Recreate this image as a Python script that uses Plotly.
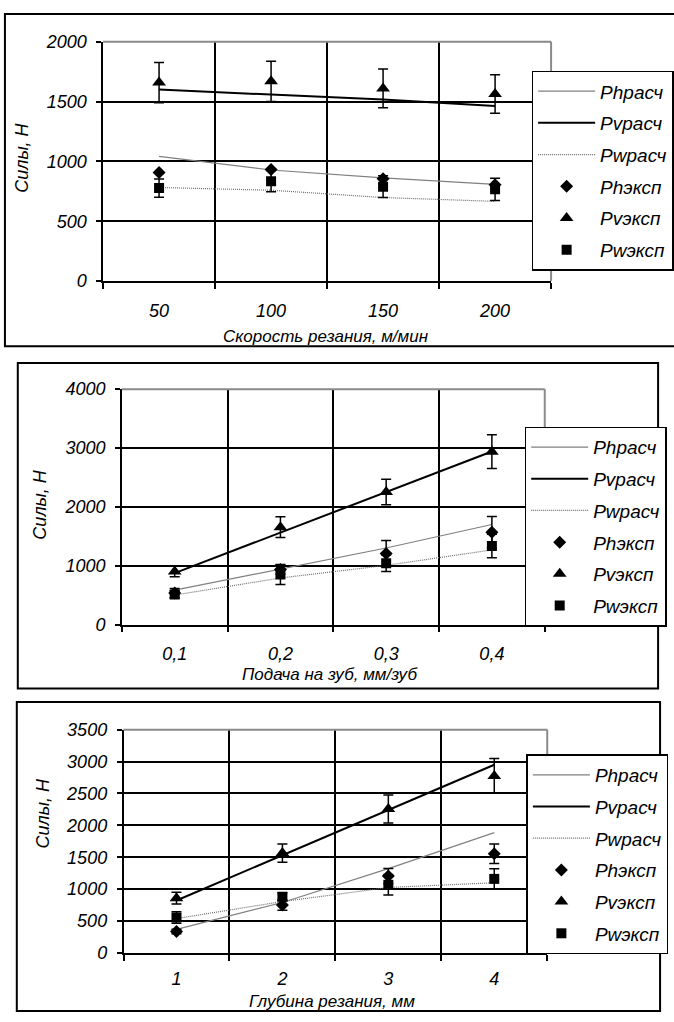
import plotly.graph_objects as go

W, H = 674, 1022

# ---------------- data ----------------
series_names = ["Phрасч", "Pvрасч", "Pwрасч", "Phэксп", "Pvэксп", "Pwэксп"]

# Chart 1: cutting speed
speed_labels = ["50", "100", "150", "200"]
speed_y_ticks = [0, 500, 1000, 1500, 2000]
speed_ph_calc = [1042, 928, 863, 808]
speed_pv_calc = [1600, 1558, 1516, 1462]
speed_pw_calc = [782, 759, 698, 666]
speed_ph_exp = [908, 933, 854, 805]
speed_pv_exp = [1658, 1669, 1609, 1563]
speed_pw_exp = [777, 835, 789, 767]
speed_ph_err = None
speed_pv_err = [168, 168, 162, 160]
speed_pw_err = [76, 88, 90, 93]

# Chart 2: feed per tooth
feed_labels = ["0,1", "0,2", "0,3", "0,4"]
feed_y_ticks = [0, 1000, 2000, 3000, 4000]
feed_ph_calc = [584, 946, 1300, 1700]
feed_pv_calc = [874, 1560, 2245, 2940]
feed_pw_calc = [501, 791, 1005, 1268]
feed_ph_exp = [535, 935, 1208, 1569]
feed_pv_exp = [901, 1655, 2253, 2937]
feed_pw_exp = [512, 850, 1041, 1335]
feed_ph_err = [77, 75, 222, 267]
feed_pv_err = [90, 175, 217, 287]
feed_pw_err = [62, 170, 140, 200]

# Chart 3: depth of cut
depth_labels = ["1", "2", "3", "4"]
depth_y_ticks = [0, 500, 1000, 1500, 2000, 2500, 3000, 3500]
depth_ph_calc = [369, 790, 1320, 1886]
depth_pv_calc = [821, 1530, 2245, 2950]
depth_pw_calc = [538, 805, 1025, 1100]
depth_ph_exp = [334, 750, 1205, 1553]
depth_pv_exp = [858, 1565, 2255, 2775]
depth_pw_exp = [555, 880, 1067, 1160]
depth_ph_err = [35, 80, 117, 153]
depth_pv_err = [92, 143, 220, 272]
depth_pw_err = [90, 60, 160, 160]

x_titles = ["Скорость резания, м/мин", "Подача на зуб, мм/зуб", "Глубина резания, мм"]
y_title = "Силы, Н"

FONT = "Liberation Sans, Arial, sans-serif"
FS = 18
LFS = 19

fig = go.Figure()

charts = [
    dict(labels=speed_labels, yticks=speed_y_ticks,
         calc=[speed_ph_calc, speed_pv_calc, speed_pw_calc],
         exp=[speed_ph_exp, speed_pv_exp, speed_pw_exp],
         err=[speed_ph_err, speed_pv_err, speed_pw_err],
         xdom=(104.3, 557.7), ydom=(32.3, 276.5),
         legend=(538, 62), box=(5, 4, 690, 343), standoff=13,
         ytitle=(22, 151), xtitle=(330, 333)),
    dict(labels=feed_labels, yticks=feed_y_ticks,
         calc=[feed_ph_calc, feed_pv_calc, feed_pw_calc],
         exp=[feed_ph_exp, feed_pv_exp, feed_pw_exp],
         err=[feed_ph_err, feed_pv_err, feed_pw_err],
         xdom=(123.3, 551.3), ydom=(386.7, 626.8),
         legend=(531, 425), box=(18, 360, 666, 692), standoff=12,
         ytitle=(41, 505), xtitle=(334, 678)),
    dict(labels=depth_labels, yticks=depth_y_ticks,
         calc=[depth_ph_calc, depth_pv_calc, depth_pw_calc],
         exp=[depth_ph_exp, depth_pv_exp, depth_pw_exp],
         err=[depth_ph_err, depth_pv_err, depth_pw_err],
         xdom=(125.0, 553.8), ydom=(734.0, 961.7),
         legend=(532.7, 759.3), box=(17, 705.7, 668, 1021), standoff=9,
         ytitle=(43, 819), xtitle=(336, 1011)),
]

calc_styles = [
    dict(color="#808080", width=1.2),
    dict(color="black", width=2),
    dict(color="#707070", width=1.2, dash="1px,1px"),
]
exp_markers = [
    dict(symbol="diamond", size=10, color="black"),
    dict(symbol="triangle-up", size=12, color="black"),
    dict(symbol="square", size=10, color="black"),
]

tickfont = dict(family=FONT, size=FS, color="black")
layout_updates = {}
shapes = []
annotations = []

for i, c in enumerate(charts):
    n = i + 1
    xa = "x" if n == 1 else f"x{n}"
    ya = "y" if n == 1 else f"y{n}"
    lg = "legend" if n == 1 else f"legend{n}"
    xpos = list(range(1, len(c["labels"]) + 1))
    for k in range(3):
        fig.add_trace(go.Scatter(
            x=xpos, y=c["calc"][k], mode="lines", name=series_names[k],
            line=calc_styles[k], xaxis=xa, yaxis=ya, legend=lg,
            legendgroup=f"c{n}_{k}"))
    for k in range(3):
        err = c["err"][k]
        fig.add_trace(go.Scatter(
            x=xpos, y=c["exp"][k], mode="markers", name=series_names[k + 3],
            marker=exp_markers[k], xaxis=xa, yaxis=ya, legend=lg,
            legendgroup=f"e{n}_{k}",
            error_y=(dict(type="data", array=err, color="black", thickness=1.5, width=5)
                     if err is not None else dict(visible=False))))

    xkey = "xaxis" if n == 1 else f"xaxis{n}"
    ykey = "yaxis" if n == 1 else f"yaxis{n}"
    yt = c["yticks"]
    layout_updates[xkey] = dict(
        domain=[c["xdom"][0] / W, c["xdom"][1] / W],
        anchor=ya, range=[0.5, len(xpos) + 0.5],
        tickmode="array", tickvals=xpos, ticktext=[f"<i>{t}</i>" for t in c["labels"]],
        ticks="", showgrid=False, zeroline=False,
        showline=True, linecolor="black", linewidth=1.5,
        tickfont=tickfont, ticklabelstandoff=c["standoff"],
        minor=dict(tickmode="array", tickvals=[p - 0.5 for p in xpos] + [len(xpos) + 0.5],
                   ticks="outside", ticklen=6, tickwidth=1.5, tickcolor="black",
                   showgrid=True, gridcolor="black", gridwidth=1.5),
    )
    layout_updates[ykey] = dict(
        domain=[1 - c["ydom"][1] / H, 1 - c["ydom"][0] / H],
        anchor=xa, range=[yt[0], yt[-1]],
        tickmode="array", tickvals=yt, ticktext=[f"<i>{t}</i>" for t in yt],
        ticks="outside", ticklen=5, tickwidth=1.5, tickcolor="black",
        showgrid=True, gridcolor="black", gridwidth=1.5, zeroline=False,
        showline=True, linecolor="black", linewidth=1.5,
        tickfont=tickfont, ticklabelstandoff=6,
    )
    layout_updates[lg] = dict(
        x=c["legend"][0] / W, y=1 - c["legend"][1] / H, xanchor="left", yanchor="top",
        bgcolor="white", bordercolor="black", borderwidth=1.5,
        font=dict(family=FONT, size=LFS, color="black", style="italic"),
        traceorder="grouped", tracegroupgap=4, itemwidth=57,
    )
    # gray plot-area border (top & right)
    shapes.append(dict(type="line", xref=f"{xa} domain", yref=f"{ya} domain",
                       x0=0, x1=1, y0=1, y1=1, line=dict(color="#8a8a8a", width=2)))
    shapes.append(dict(type="line", xref=f"{xa} domain", yref=f"{ya} domain",
                       x0=1, x1=1, y0=0, y1=1, line=dict(color="#8a8a8a", width=2)))
    # outer chart frame
    bx0, by0, bx1, by1 = c["box"]
    shapes.append(dict(type="rect", xref="paper", yref="paper", layer="below",
                       x0=bx0 / W, x1=bx1 / W, y0=1 - by1 / H, y1=1 - by0 / H,
                       line=dict(color="black", width=2), fillcolor="white"))
    annotations.append(dict(text=f"<i>{y_title}</i>", xref="paper", yref="paper",
                            x=c["ytitle"][0] / W, y=1 - c["ytitle"][1] / H,
                            xanchor="center", yanchor="middle", textangle=-90,
                            showarrow=False,
                            font=dict(family=FONT, size=FS, color="black")))
    annotations.append(dict(text=f"<i>{x_titles[i]}</i>", xref="paper", yref="paper",
                            x=c["xtitle"][0] / W, y=1 - c["xtitle"][1] / H,
                            xanchor="center", yanchor="middle", showarrow=False,
                            font=dict(family=FONT, size=17, color="black")))

fig.update_layout(
    width=W, height=H, margin=dict(l=0, r=0, t=0, b=0),
    paper_bgcolor="white", plot_bgcolor="rgba(0,0,0,0)",
    showlegend=True, shapes=shapes, annotations=annotations,
    **layout_updates,
)

fig.write_html("out.html")
